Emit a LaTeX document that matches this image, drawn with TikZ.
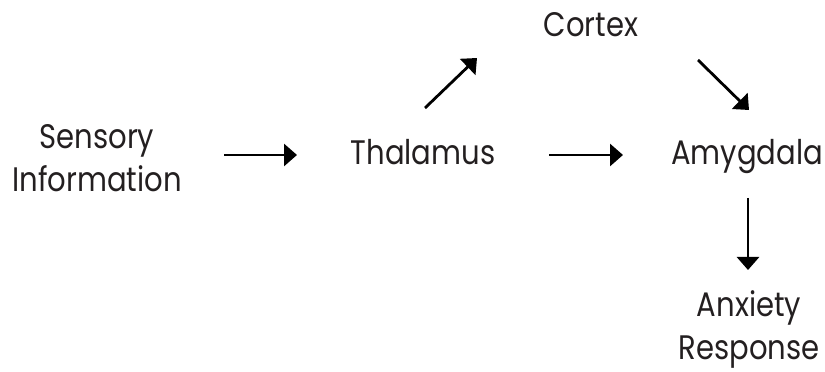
\documentclass[tikz,border=0pt]{standalone}
\usepackage{fontspec}
\setmainfont[FakeStretch=0.855]{Poppins}
\usetikzlibrary{arrows.meta,calc}
\definecolor{ink}{HTML}{231F20}
\tikzset{
  lbl/.style={text=ink, inner sep=0pt, font=\fontsize{34}{43}\selectfont, align=center},
  arr/.style={draw=black, line width=2.8pt, -{Triangle[length=13pt,width=22pt]}}
}
\begin{document}
\begin{tikzpicture}[x=1pt,y=1pt]
\useasboundingbox (0,0) rectangle (825,372);
\node[lbl] (sens) at (97,214) {Sensory\\Information};
\node[lbl, anchor=base] (thal) at (423,207) {Thalamus};
\node[lbl, anchor=base] (amyg) at (747,207) {Amygdala};
\node[lbl, anchor=base] (cort) at (591,335) {Cortex};
\node[lbl] (anx) at (749,42.5) {Anxiety\\Response};
\draw[arr] ($(sens.center)+(127,3)$) -- ($(thal.base)+(-126,10)$);
\draw[arr] ($(thal.base)+(126,10)$) -- ($(amyg.base)+(-124,10)$);
\draw[arr] ($(thal.base)+(2,57)$) -- ($(cort.base)+(-114,-21)$);
\draw[arr] ($(cort.base)+(107,-23)$) -- ($(amyg.base)+(2,55)$);
\draw[arr] ($(amyg.base)+(1,-33)$) -- ($(anx.center)+(-1,59.5)$);
\end{tikzpicture}
\end{document}
